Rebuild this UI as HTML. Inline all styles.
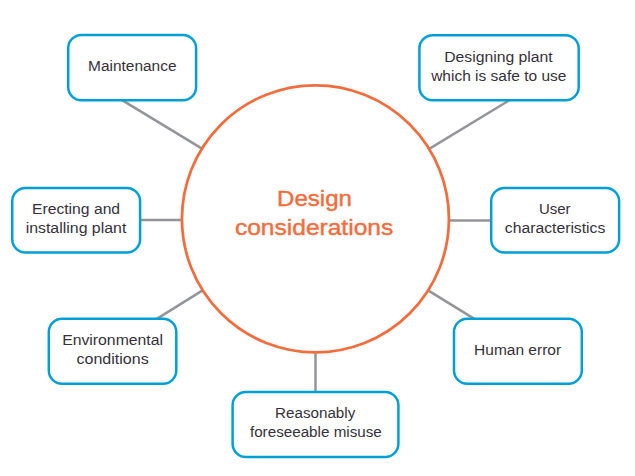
<!DOCTYPE html><html><head><meta charset="utf-8"><style>html,body{margin:0;padding:0;background:#fff;width:635px;height:476px;overflow:hidden}svg{display:block}text{font-family:"Liberation Sans",sans-serif}</style></head><body>
<svg width="635" height="476" viewBox="0 0 635 476">
<rect width="635" height="476" fill="#fff"/>
<line x1="118.37" y1="97.89" x2="206.13" y2="151.11" stroke="#949599" stroke-width="2.5"/>
<line x1="513.33" y1="97.89" x2="425.07" y2="151.41" stroke="#949599" stroke-width="2.5"/>
<line x1="153.21" y1="321.18" x2="206.19" y2="288.12" stroke="#949599" stroke-width="2.5"/>
<line x1="478.01" y1="321.14" x2="424.39" y2="288.16" stroke="#949599" stroke-width="2.5"/>
<line x1="134.00" y1="220.10" x2="188.00" y2="220.10" stroke="#949599" stroke-width="2.5"/>
<line x1="443.00" y1="220.50" x2="497.00" y2="220.50" stroke="#949599" stroke-width="2.5"/>
<line x1="315.50" y1="346.00" x2="315.50" y2="398.00" stroke="#949599" stroke-width="2.5"/>
<circle cx="315.45" cy="218.85" r="133.5" fill="#fff" stroke="#f26d3d" stroke-width="2.75"/>
<rect x="68.2" y="35.1" width="127.90" height="65.20" rx="13.2" fill="#fff" stroke="#00a0d6" stroke-width="2.5"/>
<rect x="419.4" y="35.2" width="159.30" height="65.00" rx="13.2" fill="#fff" stroke="#00a0d6" stroke-width="2.5"/>
<rect x="12.25" y="187.9" width="127.85" height="64.60" rx="13.2" fill="#fff" stroke="#00a0d6" stroke-width="2.5"/>
<rect x="491.2" y="187.9" width="127.90" height="64.70" rx="13.2" fill="#fff" stroke="#00a0d6" stroke-width="2.5"/>
<rect x="48.8" y="318.8" width="127.50" height="65.00" rx="13.2" fill="#fff" stroke="#00a0d6" stroke-width="2.5"/>
<rect x="454.0" y="318.8" width="127.80" height="65.00" rx="13.2" fill="#fff" stroke="#00a0d6" stroke-width="2.5"/>
<rect x="232.6" y="392.1" width="165.80" height="64.90" rx="13.2" fill="#fff" stroke="#00a0d6" stroke-width="2.5"/>
<text x="88.07" y="70.70" font-size="14" fill="#35313a" textLength="88.43" lengthAdjust="spacingAndGlyphs">Maintenance</text>
<text x="444.17" y="62.00" font-size="14" fill="#35313a" textLength="108.55" lengthAdjust="spacingAndGlyphs">Designing plant</text>
<text x="431.18" y="81.30" font-size="14" fill="#35313a" textLength="135.20" lengthAdjust="spacingAndGlyphs">which is safe to use</text>
<text x="31.96" y="214.00" font-size="14" fill="#35313a" textLength="88.15" lengthAdjust="spacingAndGlyphs">Erecting and</text>
<text x="25.66" y="233.00" font-size="14" fill="#35313a" textLength="100.67" lengthAdjust="spacingAndGlyphs">installing plant</text>
<text x="538.91" y="213.90" font-size="14" fill="#35313a" textLength="31.58" lengthAdjust="spacingAndGlyphs">User</text>
<text x="504.84" y="233.10" font-size="14" fill="#35313a" textLength="100.50" lengthAdjust="spacingAndGlyphs">characteristics</text>
<text x="62.16" y="344.90" font-size="14" fill="#35313a" textLength="100.83" lengthAdjust="spacingAndGlyphs">Environmental</text>
<text x="76.43" y="363.60" font-size="14" fill="#35313a" textLength="72.36" lengthAdjust="spacingAndGlyphs">conditions</text>
<text x="474.12" y="354.90" font-size="14" fill="#35313a" textLength="87.00" lengthAdjust="spacingAndGlyphs">Human error</text>
<text x="275.07" y="418.40" font-size="14" fill="#35313a" textLength="80.22" lengthAdjust="spacingAndGlyphs">Reasonably</text>
<text x="249.93" y="437.10" font-size="14" fill="#35313a" textLength="131.92" lengthAdjust="spacingAndGlyphs">foreseeable misuse</text>
<text x="277.00" y="206.00" font-size="21.2" fill="#f26d3d" stroke="#f26d3d" stroke-width="0.4" textLength="74.98" lengthAdjust="spacingAndGlyphs">Design</text>
<text x="234.92" y="235.00" font-size="21.2" fill="#f26d3d" stroke="#f26d3d" stroke-width="0.4" textLength="158.34" lengthAdjust="spacingAndGlyphs">considerations</text>
</svg></body></html>
